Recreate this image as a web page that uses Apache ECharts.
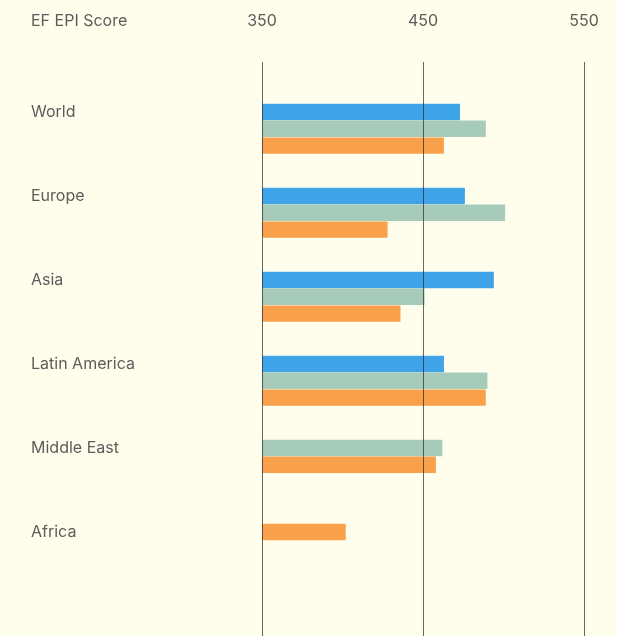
<!DOCTYPE html>
<html>
<head>
<meta charset="utf-8">
<title>EF EPI Score by region</title>
<script src="https://cdn.jsdelivr.net/npm/echarts@6/dist/echarts.min.js"></script>
<style>
  html, body { margin: 0; padding: 0; background: #fffeed; }
  #main { width: 617px; height: 636px; }
</style>
</head>
<body>
<div id="main"></div>
<script>
// scores per region
var regions = ['World', 'Europe', 'Asia', 'Latin America', 'Middle East', 'Africa'];
var blueScores = [473, 476, 494, 463, null, null];
var greenScores = [489, 501, 451, 490, 462, null];
var orangeScores = [463, 428, 436, 489, 458, 402];
var xTicks = [350, 450, 550];

var colors = ['#3ea3e8', '#a6cbba', '#f9a04b'];
var SLOTS = 5; // rows kept for each region, bars fill them from the top

// one row per bar; missing bars are dropped so the rest move up
var slotLabels = [];
var slotData = [[], [], []];
regions.forEach(function (name, r) {
    var vals = [blueScores[r], greenScores[r], orangeScores[r]];
    var row = 0;
    for (var k = 0; k < SLOTS; k++) {
        slotLabels.push(k === 0 ? name : '');
        slotData[0].push('-'); slotData[1].push('-'); slotData[2].push('-');
    }
    for (var s = 0; s < 3; s++) {
        if (vals[s] != null) {
            slotData[s][r * SLOTS + row] = vals[s];
            row++;
        }
    }
});
var slotIds = slotLabels.map(function (l, i) { return 'slot' + i; });

var textColor = '#5c5c5c';
var fontFamily = 'Inter';

var myChart = echarts.init(document.getElementById('main'));
var option = {
    backgroundColor: '#fffeed',
    title: {
        text: 'EF EPI Score',
        left: 26,
        top: 8,
        textStyle: { color: textColor, fontSize: 16, fontWeight: 'normal', fontFamily: fontFamily }
    },
    grid: [
        { left: 262, right: 33, top: 62, bottom: 0 },       // gridlines + ticks
        { left: 262, right: 33, top: 103.6, bottom: 28.4 }  // bars
    ],
    xAxis: [{
        gridIndex: 0,
        type: 'value',
        position: 'top',
        min: xTicks[0],
        max: xTicks[xTicks.length - 1],
        interval: 100,
        z: 10,
        axisLine: { show: false },
        axisTick: { show: false },
        axisLabel: { color: textColor, fontSize: 16, fontFamily: fontFamily, margin: 33 },
        splitLine: { show: true, lineStyle: { color: 'rgba(40,40,40,0.7)', width: 1 } }
    }, {
        gridIndex: 1,
        type: 'value',
        min: xTicks[0],
        max: xTicks[xTicks.length - 1],
        show: false
    }],
    yAxis: [{
        gridIndex: 0,
        type: 'value',
        show: false
    }, {
        gridIndex: 1,
        type: 'category',
        inverse: true,
        data: slotIds,
        axisLine: { show: false },
        axisTick: { show: false },
        axisLabel: {
            align: 'left',
            margin: 231,
            interval: 0,
            color: textColor,
            fontSize: 16,
            fontFamily: fontFamily,
            formatter: function (v, i) { return slotLabels[i]; }
        },
        splitLine: { show: false }
    }],
    series: slotData.map(function (d, s) {
        return {
            type: 'bar',
            xAxisIndex: 1,
            yAxisIndex: 1,
            data: d,
            barWidth: 16.4,
            barGap: '-100%',
            itemStyle: { color: colors[s] },
            silent: true
        };
    })
};
myChart.setOption(option);
</script>
</body>
</html>
